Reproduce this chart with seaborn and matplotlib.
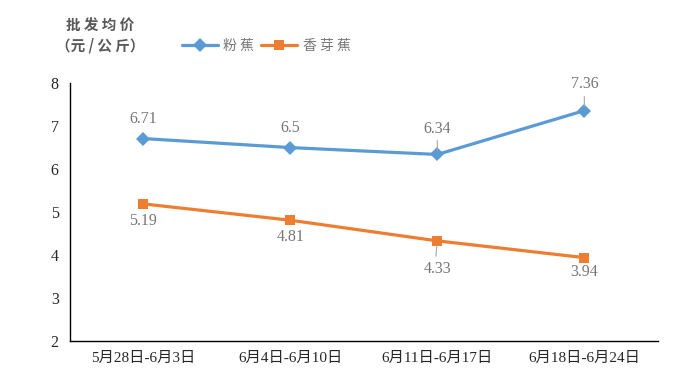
import pandas as pd
import matplotlib.pyplot as plt
import seaborn as sns

weeks = ['5月28日-6月3日', '6月4日-6月10日', '6月11日-6月17日', '6月18日-6月24日']
fenjiao = [6.71, 6.5, 6.34, 7.36]
xiangyajiao = [5.19, 4.81, 4.33, 3.94]
series_names = ['粉蕉', '香芽蕉']
yticks = [2, 3, 4, 5, 6, 7, 8]

df = pd.DataFrame({
    'week': list(range(len(weeks))) * 2,
    'price': fenjiao + xiangyajiao,
    'kind': [series_names[0]] * len(weeks) + [series_names[1]] * len(weeks),
})

sns.set_style('white')
plt.rcParams['font.family'] = ['Liberation Serif', 'Noto Sans CJK SC', 'DejaVu Sans']

fig = plt.figure(figsize=(6.91, 3.76), dpi=100)
ax = fig.add_axes([0.101, 0.093, 0.851, 0.686])

palette = {'粉蕉': '#5B9BD5', '香芽蕉': '#ED7D31'}
sns.lineplot(data=df, x='week', y='price', hue='kind', style='kind',
             markers={'粉蕉': 'D', '香芽蕉': 's'}, dashes=False,
             palette=palette, linewidth=2.3, markersize=7,
             markeredgewidth=0, ax=ax, legend=False)

ax.set_xlim(-0.5, 3.5)
ax.set_ylim(2, 8)
ax.set_yticks(yticks)
ax.set_xticks(range(len(weeks)))
ax.set_xticklabels(weeks, fontsize=11)
ax.set_xticks([i - 0.5 for i in range(len(weeks) + 1)], minor=True)
ax.tick_params(axis='x', which='major', length=0, pad=8)
ax.tick_params(axis='x', which='minor', length=5, width=1, color='black', direction='out')
ax.tick_params(axis='y', length=5, width=1, color='black', direction='out', labelsize=11.5, pad=3)
ax.set_xlabel('')
ax.set_ylabel('')
for s in ['top', 'right']:
    ax.spines[s].set_visible(False)
for s in ['left', 'bottom']:
    ax.spines[s].set_color('black')
    ax.spines[s].set_linewidth(1)

# data labels with short leader lines
up_off = [14, 14, 18, 19]
down_off = [-12, -12, -20, -10]
lbl = dict(ha='center', va='center', fontsize=11.5, color='#767676', textcoords='offset points')
for i, v in enumerate(fenjiao):
    ax.annotate(f'{v:g}', (i, v), xytext=(0, up_off[i]), **lbl)
for i, v in enumerate(xiangyajiao):
    ax.annotate(f'{v:g}', (i, v), xytext=(0, down_off[i]), **lbl)
for i, v in [(2, fenjiao[2]), (3, fenjiao[3])]:
    ax.annotate('', (i, v), xytext=(0, 10), textcoords='offset points',
                arrowprops=dict(arrowstyle='-', color='#a6a6a6', lw=0.8, shrinkA=0, shrinkB=3))
ax.annotate('', (2, xiangyajiao[2]), xytext=(-1, -11), textcoords='offset points',
            arrowprops=dict(arrowstyle='-', color='#a6a6a6', lw=0.8, shrinkA=0, shrinkB=3))

fig.text(0.145, 0.905, '批 发 均 价\n（元 / 公 斤）', ha='center', va='center', fontsize=10.5,
         fontweight='bold', color='#595959', family=['Noto Sans CJK SC'], linespacing=1.25)

handles = [plt.Line2D([], [], color=palette[n], marker=m, markersize=7, linewidth=2.3,
                      markeredgewidth=0) for n, m in zip(series_names, ['D', 's'])]
leg = fig.legend(handles, ['粉 蕉', '香 芽 蕉'], loc='center left', bbox_to_anchor=(0.245, 0.877),
                 ncol=2, frameon=False, handlelength=2.6, columnspacing=0.5, handletextpad=0.4,
                 prop={'family': 'Noto Sans CJK SC', 'size': 10})
for t in leg.get_texts():
    t.set_color('#767676')

fig.savefig('out.png', dpi=100)
